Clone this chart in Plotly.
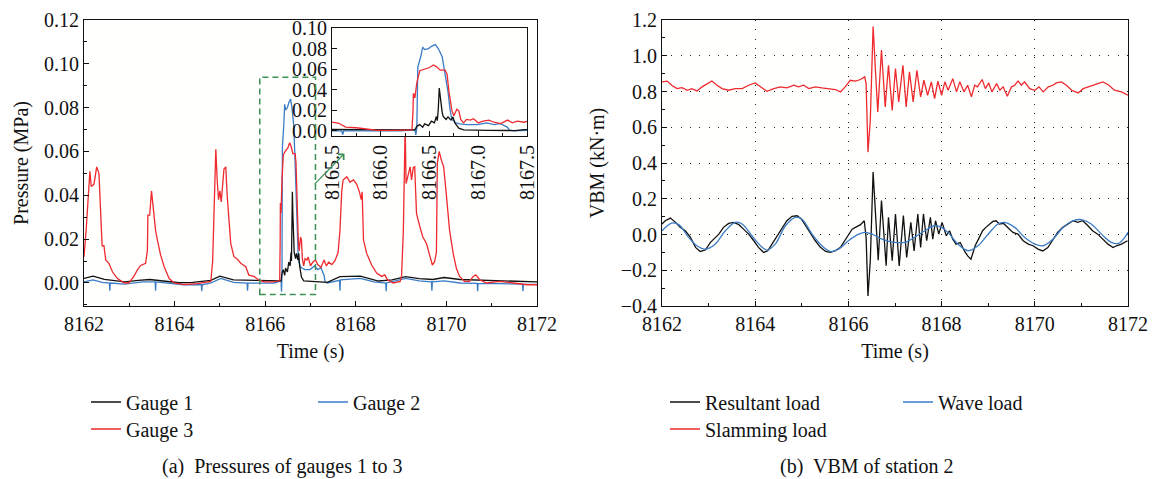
import plotly.graph_objects as go

# ---------------- Pressure records (time s, pressure MPa) ----------------
gauge1 = [
    (8162.00, 0.0021), (8162.20, 0.0031), (8162.45, 0.0016), (8162.90, 0.0005),
    (8163.20, 0.0012), (8163.45, 0.0016), (8163.80, 0.0008), (8164.10, 0.0001),
    (8164.40, 0.0003), (8164.80, 0.0012), (8165.00, 0.0031), (8165.30, 0.0014),
    (8165.80, 0.0012), (8166.35, 0.0010), (8166.37, 0.0044), (8166.40, 0.0061),
    (8166.43, 0.0035), (8166.45, 0.0068), (8166.49, 0.0050), (8166.52, 0.0095),
    (8166.55, 0.0078), (8166.57, 0.0139), (8166.58, 0.0100), (8166.59, 0.0210),
    (8166.60, 0.0416), (8166.61, 0.0320), (8166.63, 0.0180), (8166.64, 0.0140),
    (8166.67, 0.0111), (8166.69, 0.0135), (8166.72, 0.0105), (8166.74, 0.0135),
    (8166.76, 0.0078), (8166.80, 0.0027), (8166.85, 0.0010), (8167.10, 0.0005),
    (8167.37, 0.0003), (8167.65, 0.0029), (8168.10, 0.0031), (8168.50, 0.0009),
    (8168.80, 0.0014), (8169.10, 0.0029), (8169.40, 0.0020), (8169.70, 0.0016),
    (8169.95, 0.0025), (8170.30, 0.0016), (8170.60, 0.0014), (8171.20, 0.0009),
    (8171.60, 0.0009), (8172.00, 0.0005),
]

gauge2 = [
    (8162.00, 0.0005), (8162.20, 0.0014), (8162.40, 0.0003), (8162.56, 0.0000),
    (8162.57, -0.0035), (8162.58, 0.0000), (8162.90, -0.0005), (8163.30, 0.0005),
    (8163.57, 0.0005), (8163.58, -0.0035), (8163.59, 0.0005), (8163.90, -0.0003),
    (8164.20, -0.0008), (8164.59, -0.0008), (8164.60, -0.0038), (8164.61, -0.0008),
    (8164.80, 0.0000), (8165.02, 0.0021), (8165.30, 0.0003), (8165.60, -0.0001),
    (8165.61, -0.0035), (8165.62, -0.0001), (8165.90, 0.0000), (8166.20, 0.0000),
    (8166.35, 0.0010), (8166.36, -0.0040), (8166.37, 0.0030), (8166.38, 0.0620),
    (8166.41, 0.0720), (8166.43, 0.0815), (8166.45, 0.0790), (8166.49, 0.0800),
    (8166.52, 0.0822), (8166.56, 0.0839), (8166.59, 0.0800), (8166.63, 0.0720),
    (8166.66, 0.0550), (8166.69, 0.0380), (8166.71, 0.0210), (8166.73, 0.0111),
    (8166.77, 0.0078), (8166.81, 0.0068), (8166.88, 0.0061), (8166.99, 0.0061),
    (8167.09, 0.0078), (8167.16, 0.0061), (8167.23, 0.0070), (8167.30, 0.0034),
    (8167.32, 0.0007), (8167.37, 0.0000), (8167.64, 0.0012), (8167.65, -0.0035),
    (8167.66, 0.0014), (8168.10, 0.0021), (8168.40, 0.0005), (8168.66, 0.0000),
    (8168.67, -0.0038), (8168.68, 0.0000), (8169.10, 0.0021), (8169.40, 0.0010),
    (8169.67, 0.0005), (8169.68, -0.0035), (8169.69, 0.0005), (8169.95, 0.0010),
    (8170.30, 0.0000), (8170.68, -0.0002), (8170.69, -0.0038), (8170.70, -0.0002),
    (8171.20, -0.0003), (8171.68, -0.0005), (8171.69, -0.0038), (8171.70, -0.0005),
    (8172.00, -0.0006),
]

gauge3 = [
    (8162.00, 0.0120), (8162.05, 0.0250), (8162.13, 0.0510), (8162.16, 0.0440),
    (8162.22, 0.0450), (8162.28, 0.0530), (8162.33, 0.0500), (8162.38, 0.0270),
    (8162.40, 0.0170), (8162.44, 0.0170), (8162.48, 0.0105), (8162.55, 0.0090),
    (8162.63, 0.0050), (8162.74, 0.0020), (8162.88, 0.0001), (8162.99, 0.0000),
    (8163.10, 0.0030), (8163.18, 0.0060), (8163.25, 0.0080), (8163.36, 0.0090),
    (8163.40, 0.0150), (8163.41, 0.0310), (8163.45, 0.0310), (8163.49, 0.0420),
    (8163.55, 0.0290), (8163.58, 0.0240), (8163.62, 0.0196), (8163.69, 0.0128),
    (8163.77, 0.0074), (8163.88, 0.0020), (8163.99, 0.0000), (8164.21, -0.0007),
    (8164.50, -0.0003), (8164.80, 0.0007), (8164.84, 0.0100), (8164.91, 0.0610),
    (8164.94, 0.0470), (8164.97, 0.0380), (8165.00, 0.0420), (8165.03, 0.0370),
    (8165.09, 0.0520), (8165.13, 0.0530), (8165.16, 0.0400), (8165.20, 0.0270),
    (8165.24, 0.0180), (8165.31, 0.0120), (8165.38, 0.0110), (8165.46, 0.0090),
    (8165.57, 0.0074), (8165.64, 0.0036), (8165.75, 0.0030), (8165.86, 0.0014),
    (8165.97, 0.0005), (8166.16, 0.0005), (8166.32, 0.0010), (8166.33, 0.0180),
    (8166.335, 0.0365), (8166.35, 0.0320), (8166.37, 0.0467), (8166.40, 0.0585),
    (8166.44, 0.0600), (8166.47, 0.0610), (8166.50, 0.0616), (8166.54, 0.0640),
    (8166.57, 0.0625), (8166.61, 0.0590), (8166.64, 0.0592), (8166.66, 0.0590),
    (8166.68, 0.0550), (8166.70, 0.0380), (8166.73, 0.0196), (8166.75, 0.0146),
    (8166.78, 0.0210), (8166.80, 0.0196), (8166.82, 0.0111), (8166.85, 0.0078),
    (8166.88, 0.0111), (8166.92, 0.0105), (8166.95, 0.0118), (8167.00, 0.0078),
    (8167.05, 0.0095), (8167.11, 0.0105), (8167.16, 0.0084), (8167.23, 0.0071),
    (8167.30, 0.0105), (8167.35, 0.0078), (8167.40, 0.0095), (8167.47, 0.0084),
    (8167.54, 0.0102), (8167.61, 0.0140), (8167.65, 0.0240), (8167.69, 0.0420),
    (8167.72, 0.0470), (8167.80, 0.0485), (8167.87, 0.0460), (8167.95, 0.0470),
    (8168.02, 0.0450), (8168.08, 0.0416), (8168.12, 0.0380), (8168.14, 0.0416),
    (8168.17, 0.0196), (8168.24, 0.0135), (8168.35, 0.0082), (8168.46, 0.0045),
    (8168.57, 0.0030), (8168.64, 0.0037), (8168.70, 0.0014), (8168.83, 0.0000),
    (8168.98, 0.0007), (8169.01, 0.0030), (8169.05, 0.0240), (8169.09, 0.0720),
    (8169.11, 0.0454), (8169.14, 0.0480), (8169.20, 0.0530), (8169.23, 0.0470),
    (8169.27, 0.0527), (8169.30, 0.0530), (8169.34, 0.0318), (8169.41, 0.0260),
    (8169.48, 0.0210), (8169.56, 0.0180), (8169.63, 0.0128), (8169.69, 0.0082),
    (8169.74, 0.0097), (8169.78, 0.0140), (8169.80, 0.0546), (8169.84, 0.0600),
    (8169.89, 0.0560), (8169.94, 0.0530), (8170.00, 0.0400), (8170.07, 0.0240),
    (8170.15, 0.0135), (8170.22, 0.0067), (8170.29, 0.0030), (8170.40, 0.0007),
    (8170.51, 0.0007), (8170.59, 0.0030), (8170.65, 0.0037), (8170.74, 0.0014),
    (8170.89, 0.0000), (8171.18, 0.0007), (8171.48, 0.0000), (8171.78, -0.0008),
    (8172.00, -0.0008),
]

# ---------------- VBM of station 2 (time s, kN·m) ----------------
resultant = [
    (8162.00, 0.059), (8162.07, 0.077), (8162.18, 0.092), (8162.29, 0.068),
    (8162.39, 0.040), (8162.50, 0.021), (8162.61, -0.016), (8162.72, -0.072),
    (8162.82, -0.095), (8162.93, -0.087), (8163.04, -0.044), (8163.11, -0.026),
    (8163.22, 0.002), (8163.32, 0.040), (8163.43, 0.062), (8163.54, 0.068),
    (8163.65, 0.055), (8163.75, 0.030), (8163.86, 0.002), (8163.97, -0.035),
    (8164.07, -0.072), (8164.18, -0.100), (8164.27, -0.091), (8164.36, -0.054),
    (8164.47, -0.007), (8164.58, 0.040), (8164.68, 0.077), (8164.79, 0.102),
    (8164.90, 0.105), (8164.99, 0.087), (8165.08, 0.049), (8165.18, 0.012),
    (8165.29, -0.035), (8165.40, -0.072), (8165.51, -0.095), (8165.61, -0.100),
    (8165.72, -0.091), (8165.83, -0.072), (8165.92, -0.035), (8166.01, 0.002),
    (8166.08, 0.030), (8166.18, 0.044), (8166.26, 0.055), (8166.34, 0.077),
    (8166.38, -0.016), (8166.42, -0.344), (8166.47, -0.147), (8166.53, 0.349),
    (8166.58, 0.115), (8166.64, -0.144), (8166.71, 0.190), (8166.76, 0.002),
    (8166.81, -0.175), (8166.86, 0.096), (8166.94, -0.147), (8167.01, 0.115),
    (8167.09, -0.176), (8167.18, 0.106), (8167.25, -0.129), (8167.34, 0.068),
    (8167.41, -0.092), (8167.49, 0.115), (8167.55, -0.073), (8167.61, 0.115),
    (8167.68, -0.035), (8167.76, 0.096), (8167.81, -0.026), (8167.87, 0.077),
    (8167.94, 0.002), (8168.01, 0.068), (8168.10, -0.007), (8168.17, 0.021),
    (8168.24, -0.026), (8168.31, -0.054), (8168.40, -0.045), (8168.49, -0.092),
    (8168.56, -0.120), (8168.63, -0.138), (8168.68, -0.100), (8168.72, -0.063),
    (8168.81, -0.016), (8168.88, 0.021), (8168.95, 0.040), (8169.03, 0.055),
    (8169.10, 0.073), (8169.17, 0.077), (8169.24, 0.059), (8169.33, 0.062),
    (8169.42, 0.040), (8169.53, 0.012), (8169.64, 0.002), (8169.75, -0.035),
    (8169.86, -0.054), (8169.96, -0.063), (8170.07, -0.082), (8170.17, -0.092),
    (8170.28, -0.073), (8170.39, -0.026), (8170.49, 0.012), (8170.60, 0.040),
    (8170.71, 0.059), (8170.82, 0.077), (8170.92, 0.068), (8171.03, 0.077),
    (8171.14, 0.049), (8171.24, 0.021), (8171.35, 0.002), (8171.46, -0.026),
    (8171.57, -0.054), (8171.68, -0.073), (8171.75, -0.063), (8171.86, -0.054),
    (8171.99, -0.035),
]

wave = [
    (8162.00, 0.021), (8162.21, 0.064), (8162.36, 0.055), (8162.57, -0.016),
    (8162.75, -0.063), (8162.93, -0.082), (8163.14, -0.054), (8163.36, 0.021),
    (8163.57, 0.068), (8163.72, 0.059), (8163.93, -0.007), (8164.15, -0.072),
    (8164.25, -0.087), (8164.43, -0.054), (8164.65, 0.049), (8164.86, 0.096),
    (8165.00, 0.087), (8165.22, 0.002), (8165.43, -0.063), (8165.61, -0.095),
    (8165.79, -0.082), (8166.00, -0.035), (8166.22, 0.002), (8166.36, 0.012),
    (8166.51, 0.002), (8166.72, -0.026), (8166.99, -0.044), (8167.21, -0.044),
    (8167.42, -0.016), (8167.64, 0.021), (8167.85, 0.049), (8168.00, 0.040),
    (8168.17, 0.002), (8168.35, -0.054), (8168.57, -0.091), (8168.78, -0.063),
    (8169.00, 0.002), (8169.21, 0.059), (8169.35, 0.068), (8169.57, 0.040),
    (8169.78, -0.016), (8170.00, -0.054), (8170.18, -0.063), (8170.39, -0.026),
    (8170.61, 0.040), (8170.82, 0.077), (8171.00, 0.083), (8171.21, 0.059),
    (8171.43, 0.002), (8171.64, -0.044), (8171.79, -0.050), (8171.93, -0.016),
    (8172.00, 0.012),
]

slamming = [
    (8162.00, 0.854), (8162.11, 0.858), (8162.21, 0.835), (8162.32, 0.816),
    (8162.43, 0.822), (8162.54, 0.807), (8162.64, 0.816), (8162.75, 0.803),
    (8162.86, 0.826), (8162.97, 0.844), (8163.07, 0.859), (8163.18, 0.835),
    (8163.29, 0.816), (8163.43, 0.807), (8163.57, 0.816), (8163.72, 0.816),
    (8163.86, 0.835), (8164.00, 0.848), (8164.11, 0.829), (8164.25, 0.801),
    (8164.40, 0.816), (8164.54, 0.826), (8164.68, 0.820), (8164.83, 0.835),
    (8164.93, 0.826), (8165.04, 0.835), (8165.15, 0.816), (8165.29, 0.826),
    (8165.43, 0.820), (8165.58, 0.816), (8165.72, 0.811), (8165.83, 0.798),
    (8165.93, 0.826), (8166.04, 0.863), (8166.15, 0.858), (8166.26, 0.867),
    (8166.35, 0.882), (8166.38, 0.844), (8166.42, 0.461), (8166.47, 0.639),
    (8166.53, 1.163), (8166.58, 0.919), (8166.63, 0.685), (8166.71, 1.032),
    (8166.79, 0.713), (8166.86, 0.947), (8166.94, 0.694), (8167.01, 0.929),
    (8167.08, 0.742), (8167.17, 0.947), (8167.24, 0.713), (8167.31, 0.910),
    (8167.39, 0.742), (8167.47, 0.919), (8167.55, 0.770), (8167.62, 0.863),
    (8167.70, 0.779), (8167.78, 0.854), (8167.85, 0.760), (8167.92, 0.858),
    (8168.00, 0.779), (8168.07, 0.854), (8168.14, 0.807), (8168.24, 0.872),
    (8168.32, 0.798), (8168.39, 0.854), (8168.48, 0.798), (8168.56, 0.835),
    (8168.64, 0.770), (8168.71, 0.835), (8168.77, 0.826), (8168.87, 0.867),
    (8168.94, 0.816), (8169.01, 0.848), (8169.08, 0.798), (8169.18, 0.844),
    (8169.25, 0.807), (8169.32, 0.826), (8169.41, 0.773), (8169.50, 0.826),
    (8169.57, 0.835), (8169.64, 0.859), (8169.71, 0.835), (8169.78, 0.854),
    (8169.89, 0.816), (8170.00, 0.807), (8170.09, 0.826), (8170.18, 0.798),
    (8170.29, 0.826), (8170.39, 0.835), (8170.46, 0.848), (8170.57, 0.854),
    (8170.68, 0.835), (8170.79, 0.807), (8170.93, 0.792), (8171.04, 0.816),
    (8171.18, 0.829), (8171.32, 0.844), (8171.46, 0.854), (8171.57, 0.839),
    (8171.71, 0.807), (8171.86, 0.798), (8172.00, 0.779),
]

# Zoom window drawn on the pressure panel (s, MPa)
zoom_window_t = [8165.88, 8167.11]
zoom_window_p = [-0.0052, 0.0939]

# Axis ticks
time_ticks = [8162, 8164, 8166, 8168, 8170, 8172]
inset_ticks = [8165.5, 8166.0, 8166.5, 8167.0, 8167.5]

BLACK = "#111111"
BLUE = "#3b7cc6"
RED = "#ee2a2e"
GREEN = "#3c8f55"
FONT = "Liberation Serif"
FS = 20


def split(pairs):
    return [p[0] for p in pairs], [p[1] for p in pairs]


fig = go.Figure()

# Pressure panel (main + inset share the same records)
pressure_series = [
    ("Gauge 2", gauge2, BLUE, "legend2"),
    ("Gauge 1", gauge1, BLACK, "legend"),
    ("Gauge 3", gauge3, RED, "legend3"),
]
for name, pairs, color, leg in pressure_series:
    t, p = split(pairs)
    fig.add_trace(go.Scatter(x=t, y=p, mode="lines", name=name, legend=leg,
                             line=dict(color=color, width=1.3),
                             xaxis="x", yaxis="y"))
for name, pairs, color, leg in pressure_series:
    t, p = split(pairs)
    fig.add_trace(go.Scatter(x=t, y=p, mode="lines", name=name, showlegend=False,
                             line=dict(color=color, width=1.3),
                             xaxis="x3", yaxis="y3"))

# VBM panel
t, v = split(resultant)
fig.add_trace(go.Scatter(x=t, y=v, mode="lines", name="Resultant load", legend="legend4",
                         line=dict(color=BLACK, width=1.3), xaxis="x2", yaxis="y2"))
t, v = split(wave)
fig.add_trace(go.Scatter(x=t, y=v, mode="lines", name="Wave load", legend="legend5",
                         line=dict(color=BLUE, width=1.3, shape="spline", smoothing=1.0),
                         xaxis="x2", yaxis="y2"))
t, v = split(slamming)
fig.add_trace(go.Scatter(x=t, y=v, mode="lines", name="Slamming load", legend="legend6",
                         line=dict(color=RED, width=1.3), xaxis="x2", yaxis="y2"))

tickfont = dict(family=FONT, size=FS, color="#111")
axis_common = dict(
    showline=True, linecolor="#111", linewidth=1, mirror=True,
    ticks="inside", ticklen=5, tickcolor="#111", tickwidth=1,
    zeroline=False, tickfont=tickfont, automargin=False,
)

W, H = 1154, 479


def px_x(a, b):
    return [a / W, b / W]


def px_y(top, bottom):
    return [(H - bottom) / H, (H - top) / H]


fig.update_layout(
    template="none",
    width=W, height=H,
    margin=dict(l=0, r=0, t=0, b=0, pad=0),
    paper_bgcolor="#ffffff",
    plot_bgcolor="#fffffe",
    font=dict(family=FONT, size=FS, color="#111"),
    xaxis=dict(axis_common, domain=px_x(84, 537), range=[8162, 8172], anchor="y",
               tickvals=time_ticks, showgrid=False,
               minor=dict(dtick=1, tick0=8162, ticks="inside", ticklen=3, tickcolor="#111"),
               title=dict(text="Time (s)", font=dict(family=FONT, size=FS), standoff=9)),
    yaxis=dict(axis_common, domain=px_y(20, 306), range=[-0.0105, 0.12], anchor="x",
               dtick=0.02, tick0=0, tickformat=".2f", showgrid=False,
               minor=dict(dtick=0.01, tick0=0, ticks="inside", ticklen=3, tickcolor="#111"),
               title=dict(text="Pressure (MPa)", font=dict(family=FONT, size=FS), standoff=10)),
    xaxis2=dict(axis_common, domain=px_x(662, 1128), range=[8162, 8172], anchor="y2",
                tickvals=time_ticks, showgrid=True, gridcolor="#222", gridwidth=1,
                griddash="1px,8.3px",
                minor=dict(dtick=1, tick0=8162, ticks="inside", ticklen=3, tickcolor="#111"),
                title=dict(text="Time (s)", font=dict(family=FONT, size=FS), standoff=9)),
    yaxis2=dict(axis_common, domain=px_y(20, 306), range=[-0.4, 1.2], anchor="x2",
                dtick=0.2, tick0=0, tickformat=".1f", showgrid=True, gridcolor="#222",
                gridwidth=1, griddash="1px,8.3px",
                minor=dict(dtick=0.1, tick0=0, ticks="inside", ticklen=3, tickcolor="#111"),
                title=dict(text="VBM (kN·m)", font=dict(family=FONT, size=FS), standoff=10)),
    xaxis3=dict(axis_common, domain=px_x(332, 527), range=[8165.5, 8167.5], anchor="y3",
                tickvals=inset_ticks, ticktext=[f"{v:.1f}" for v in inset_ticks],
                tickangle=-90, showgrid=False,
                minor=dict(dtick=0.25, tick0=8165.5, ticks="inside", ticklen=3, tickcolor="#111")),
    yaxis3=dict(axis_common, domain=px_y(28, 136), range=[-0.005, 0.1], anchor="x3",
                dtick=0.02, tick0=0, tickformat=".2f", showgrid=False),
    showlegend=True,
)

# Legends, one entry each so the two-column layout can be placed freely
leg_font = dict(family=FONT, size=FS, color="#111")
legend_pos = {
    "legend": (86, 402), "legend2": (313, 402), "legend3": (86, 429),
    "legend4": (665, 402), "legend5": (898, 402), "legend6": (665, 429),
}
for key, (lx, ly) in legend_pos.items():
    fig.update_layout({key: dict(x=lx / W, y=(H - ly) / H, xanchor="left", yanchor="middle",
                                 xref="paper", yref="paper", bgcolor="rgba(0,0,0,0)",
                                 borderwidth=0, font=leg_font, itemwidth=30)})

# Zoom window and pointer arrow
fig.add_shape(type="rect", xref="x", yref="y",
              x0=zoom_window_t[0], x1=zoom_window_t[1],
              y0=zoom_window_p[0], y1=zoom_window_p[1],
              line=dict(color=GREEN, width=1.5, dash="6px,4px"))
fig.add_annotation(xref="x", yref="y", axref="x", ayref="y",
                   x=8167.75, y=0.0591, ax=8167.06, ay=0.0444,
                   text="", showarrow=True, arrowhead=4, arrowsize=1.3,
                   arrowwidth=1.2, arrowcolor=GREEN)

# Panel captions
fig.add_annotation(xref="paper", yref="paper", x=282 / W, y=(H - 466) / H,
                   xanchor="center", yanchor="middle",
                   text="(a)  Pressures of gauges 1 to 3", showarrow=False,
                   font=dict(family=FONT, size=FS, color="#111"))
fig.add_annotation(xref="paper", yref="paper", x=867 / W, y=(H - 466) / H,
                   xanchor="center", yanchor="middle",
                   text="(b)  VBM of station 2", showarrow=False,
                   font=dict(family=FONT, size=FS, color="#111"))

fig.write_html("out.html")
